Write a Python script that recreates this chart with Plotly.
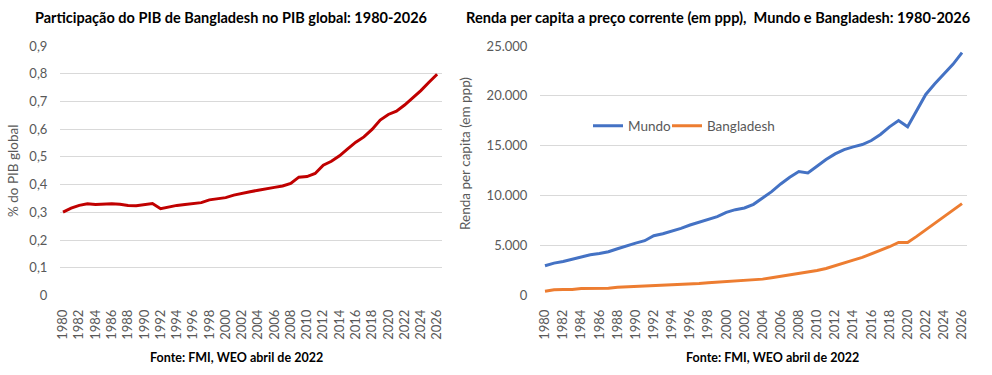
import plotly.graph_objects as go

years = list(range(1980, 2027))

share_pib = [0.301, 0.315, 0.325, 0.331, 0.328, 0.330, 0.331, 0.329, 0.325, 0.324,
             0.328, 0.332, 0.313, 0.320, 0.325, 0.328, 0.331, 0.335, 0.345, 0.349,
             0.353, 0.362, 0.367, 0.374, 0.380, 0.384, 0.390, 0.395, 0.404, 0.427,
             0.429, 0.440, 0.470, 0.484, 0.504, 0.529, 0.553, 0.572, 0.599, 0.633,
             0.653, 0.665, 0.687, 0.713, 0.739, 0.769, 0.798]

mundo = [2979, 3246, 3414, 3648, 3882, 4083, 4217, 4384, 4685, 4987,
         5254, 5489, 5991, 6191, 6426, 6727, 7062, 7363, 7597, 7898,
         8333, 8601, 8768, 9137, 9772, 10408, 11178, 11847, 12416, 12282,
         12952, 13621, 14190, 14625, 14893, 15127, 15529, 16131, 16901, 17537,
         16901, 18541, 20147, 21218, 22222, 23159, 24331]

bangladesh = [435, 569, 602, 602, 703, 703, 703, 736, 837, 870,
              937, 970, 1037, 1071, 1071, 1138, 1171, 1205, 1272, 1339,
              1339, 1439, 1473, 1540, 1640, 1774, 1908, 2041, 2175, 2343,
              2510, 2711, 3012, 3246, 3548, 3815, 4150, 4485, 4886, 5321,
              5321, 5924, 6593, 7262, 7932, 8568, 9203]

left_title = "Participação do PIB de Bangladesh no PIB global: 1980-2026"
right_title = "Renda per capita a preço corrente (em ppp),  Mundo e Bangladesh: 1980-2026"
left_ytitle = "% do PIB global"
right_ytitle = "Renda per capita (em ppp)"
source = "Fonte: FMI, WEO abril de 2022"

left_yticks = [0, 0.1, 0.2, 0.3, 0.4, 0.5, 0.6, 0.7, 0.8, 0.9]
left_ylabels = ["0", "0,1", "0,2", "0,3", "0,4", "0,5", "0,6", "0,7", "0,8", "0,9"]
right_yticks = [0, 5000, 10000, 15000, 20000, 25000]
right_ylabels = ["0", "5.000", "10.000", "15.000", "20.000", "25.000"]
xticks = list(range(1980, 2027, 2))

FONT = "Lato, 'Open Sans', sans-serif"
GRAY = "#595959"
GRID = "#d9d9d9"
W, H = 992, 375

fig = go.Figure()
fig.add_trace(go.Scatter(x=years, y=share_pib, mode="lines", name="PIB",
                         line=dict(color="#C00000", width=3), xaxis="x", yaxis="y",
                         showlegend=False))
fig.add_trace(go.Scatter(x=years, y=mundo, mode="lines", name="Mundo",
                         line=dict(color="#4472C4", width=3), xaxis="x2", yaxis="y2",
                         legend="legend"))
fig.add_trace(go.Scatter(x=years, y=bangladesh, mode="lines", name="Bangladesh",
                         line=dict(color="#ED7D31", width=3), xaxis="x2", yaxis="y2",
                         legend="legend2"))

def xaxis(domain, rng, anchor):
    return dict(domain=domain, range=rng, anchor=anchor, tickmode="array",
                tickvals=xticks, ticktext=[str(t) for t in xticks], tickangle=-90,
                showgrid=False, zeroline=False, showline=False, automargin=False,
                ticks="outside", ticklen=8, tickcolor="rgba(0,0,0,0)",
                tickfont=dict(family=FONT, size=13, color=GRAY))

def yaxis(domain, rng, anchor, vals, labels):
    return dict(domain=domain, range=rng, anchor=anchor, tickmode="array",
                tickvals=vals, ticktext=labels, showgrid=True, gridcolor=GRID,
                gridwidth=1, zeroline=False, showline=False, automargin=False,
                ticks="outside", ticklen=9, tickcolor="rgba(0,0,0,0)",
                tickfont=dict(family=FONT, size=13, color=GRAY))

def legend(x):
    return dict(orientation="h", x=x / W, y=1 - 126 / H, xanchor="left",
                yanchor="middle", itemwidth=30, bgcolor="rgba(0,0,0,0)",
                font=dict(family=FONT, size=13.5, color=GRAY))

yd = [1 - 295.5 / H, 1 - 46 / H]
fig.update_layout(
    width=W, height=H, margin=dict(l=0, r=0, t=0, b=0, autoexpand=False),
    paper_bgcolor="white", plot_bgcolor="white",
    xaxis=xaxis([60 / W, 442 / W], [1979.63, 2026.6], "y"),
    yaxis=yaxis(yd, [0, 0.9], "x", left_yticks, left_ylabels),
    xaxis2=xaxis([540 / W, 967 / W], [1979.45, 2026.55], "y2"),
    yaxis2=yaxis(yd, [0, 25000], "x2", right_yticks, right_ylabels),
    legend=legend(588),
    legend2=legend(667),
)

ann = [
    dict(text=f"<b>{left_title}</b>", x=231 / W, y=1 - 17 / H, size=14.5),
    dict(text="<b>" + right_title.replace("  ", " \u00a0") + "</b>", x=718 / W, y=1 - 17 / H, size=14.6),
    dict(text=f"<b>{source}</b>", x=236 / W, y=1 - 357 / H, size=12.5),
    dict(text=f"<b>{source}</b>", x=772 / W, y=1 - 357 / H, size=12.5),
]
for a in ann:
    fig.add_annotation(xref="paper", yref="paper", x=a["x"], y=a["y"], text=a["text"],
                       showarrow=False, xanchor="center", yanchor="middle",
                       font=dict(family=FONT, size=a["size"], color="black"))

fig.add_annotation(xref="paper", yref="paper", x=13 / W, y=1 - 171 / H, text=left_ytitle,
                   textangle=-90, showarrow=False, xanchor="center", yanchor="middle",
                   font=dict(family=FONT, size=13.5, color=GRAY))
fig.add_annotation(xref="paper", yref="paper", x=465 / W, y=1 - 154 / H, text=right_ytitle,
                   textangle=-90, showarrow=False, xanchor="center", yanchor="middle",
                   font=dict(family=FONT, size=13.5, color=GRAY))

fig.write_html("out.html", config={"displayModeBar": False},
               post_script="document.body.style.margin='0';document.body.style.overflow='hidden';")
